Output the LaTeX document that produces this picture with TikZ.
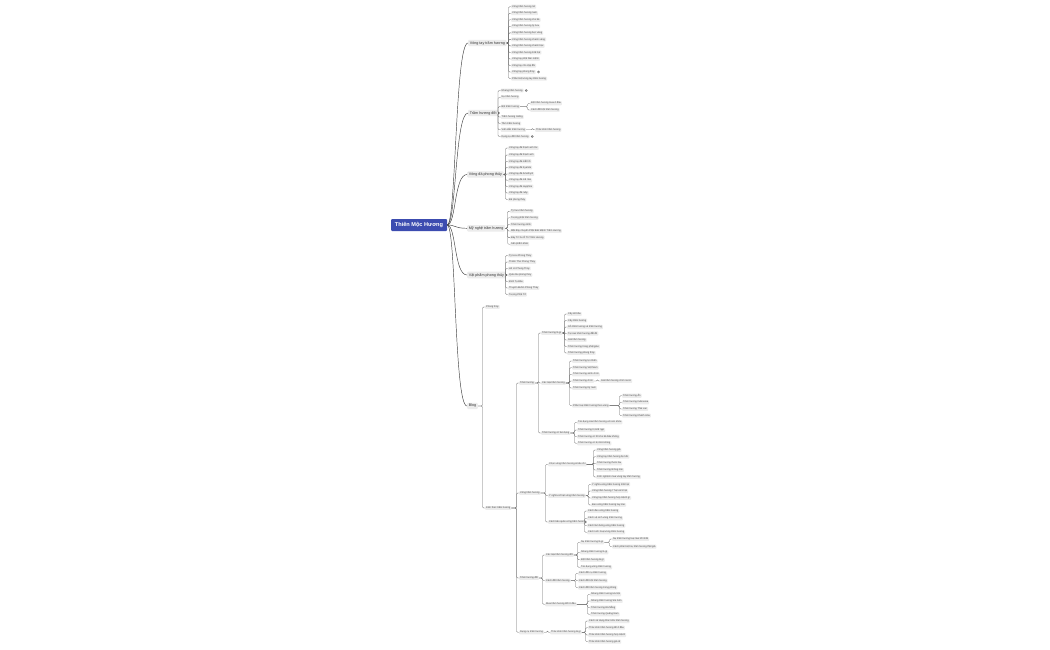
\documentclass[tikz,border=0pt]{standalone}
\usepackage{fontspec}
\setmainfont{Liberation Sans}
\usetikzlibrary{calc}
\definecolor{rootblue}{RGB}{60,76,176}
\definecolor{boxg}{RGB}{236,236,236}
\definecolor{lineg}{RGB}{105,105,105}
\definecolor{txt}{RGB}{70,70,70}
\newcommand\kids[2]{\foreach \c in {#2}{\draw[brl] (#1.east) -- ($(#1.east -| \c.west)+(-2.5,0)$) |- (\c.west);}}
\newcommand\linkicon[1]{\draw[lineg, line width=0.25pt] ($(#1.east)+(2.6,0)$) circle (1.2) ($(#1.east)+(2.0,0.5)$) -- ($(#1.east)+(3.2,-0.5)$);}
\begin{document}
\begin{tikzpicture}[x=1pt,y=-1pt,
 leaf/.style={anchor=west, fill=boxg, rounded corners=0.8pt, inner xsep=1pt, inner ysep=0.8pt, font=\fontsize{2.45}{2.8}\selectfont, text=txt},
 mainn/.style={anchor=west, fill=boxg, rounded corners=1pt, inner xsep=1.6pt, inner ysep=1.4pt, font=\fontsize{3.7}{4.2}\selectfont, text=black!80},
 rootn/.style={fill=rootblue, text=white, font=\fontsize{5.6}{6}\selectfont\bfseries, minimum width=56pt, minimum height=12pt, rounded corners=1pt, inner sep=0pt},
 curve/.style={draw=black!75, line width=0.45pt},
 brl/.style={draw=lineg, line width=0.3pt, rounded corners=1.2pt},
]
\fill[white] (0,0) rectangle (1050,650);
\useasboundingbox (0,0) rectangle (1050,650);

\node[rootn] (root) at (419,225) {Thiên Mộc Hương};

\node[mainn] (b1) at (468,43) {Vòng tay trầm hương};
\node[mainn] (b2) at (468,113) {Trầm hương đốt};
\node[mainn] (b3) at (467,174.5) {Vòng đá phong thủy};
\node[mainn] (b4) at (467,228.3) {Mỹ nghệ trầm hương};
\node[mainn] (b5) at (467,275) {Vật phẩm phong thủy};
\node[mainn] (b6) at (467,406) {Blog};

\foreach \b in {b1,b2,b3,b4,b5,b6}{\draw[curve] (root.east) .. controls +(9,0) and +(-13,0) .. (\b.west);}

% branch 1
\node[leaf] (a1) at (511,6.7) {Vòng trầm hương nữ};
\node[leaf] (a2) at (511,13.2) {Vòng trầm hương nam};
\node[leaf] (a3) at (511,19.8) {Vòng trầm hương cho bé};
\node[leaf] (a4) at (511,26.3) {Vòng trầm hương tỳ hưu};
\node[leaf] (a5) at (511,32.9) {Vòng trầm hương bọc vàng};
\node[leaf] (a6) at (511,39.4) {Vòng trầm hương charm vàng};
\node[leaf] (a7) at (511,45.9) {Vòng trầm hương charm bạc};
\node[leaf] (a8) at (511,52.5) {Vòng trầm hương 108 hạt};
\node[leaf] (a9) at (511,59.0) {Vòng tay phật bản mệnh};
\node[leaf] (a10) at (511,65.6) {Vòng tay cho cặp đôi};
\node[leaf] (a11) at (511,72.1) {Vòng tay phong thủy};
\node[leaf] (a12) at (511,78.6) {Phân biệt vòng tay trầm hương};
\kids{b1}{a1,a2,a3,a4,a5,a6,a7,a8,a9,a10,a11,a12}
\linkicon{a11}

% branch 2
\node[leaf] (c1) at (500.5,90.5) {Nhang trầm hương};
\node[leaf] (c2) at (500.5,97.3) {Nụ trầm hương};
\node[leaf] (c3) at (500.5,106.6) {Bột trầm hương};
\node[leaf] (c4) at (500.5,117) {Trầm hương miếng};
\node[leaf] (c5) at (500.5,123.5) {Tăm trầm hương};
\node[leaf] (c6) at (500.5,129.8) {Viên dẫn trầm hương};
\node[leaf] (c7) at (500.5,136.5) {Dụng cụ đốt trầm hương};
\kids{b2}{c1,c2,c3,c4,c5,c6,c7}
\linkicon{c1}
\linkicon{c7}
\node[leaf] (c31) at (530,103.3) {Bột trầm hương mua ở đâu};
\node[leaf] (c32) at (530,110) {Cách đốt bột trầm hương};
\kids{c3}{c31,c32}
\node[leaf] (c61) at (535,129.8) {Thác khói trầm hương};
\kids{c6}{c61}

% branch 3
\node[leaf] (d1) at (508,148) {Vòng tay đá thạch anh tóc};
\node[leaf] (d2) at (508,155) {Vòng tay đá thạch anh};
\node[leaf] (d3) at (508,161.3) {Vòng tay đá mắt hổ};
\node[leaf] (d4) at (508,167.5) {Vòng tay đá Kyanite};
\node[leaf] (d5) at (508,174) {Vòng tay đá Amethyst};
\node[leaf] (d6) at (508,180.3) {Vòng tay đá mã não};
\node[leaf] (d7) at (508,186.5) {Vòng tay đá sapphire};
\node[leaf] (d8) at (508,193) {Vòng tay đá ruby};
\node[leaf] (d9) at (508,199.5) {Đá phong thủy};
\kids{b3}{d1,d2,d3,d4,d5,d6,d7,d8,d9}

% branch 4
\node[leaf] (e1) at (510,211.2) {Tỳ hưu trầm hương};
\node[leaf] (e2) at (510,217.8) {Tượng phật trầm hương};
\node[leaf] (e3) at (510,224.4) {Trầm hương cảnh};
\node[leaf] (e4) at (510,231) {Mặt dây chuyền Phật Bản Mệnh Trầm Hương};
\node[leaf] (e5) at (510,237.6) {Bày Trí Xe Ô Tô Trầm Hương};
\node[leaf] (e6) at (510,244.2) {Sản phẩm khác};
\kids{b4}{e1,e2,e3,e4,e5,e6}

% branch 5
\node[leaf] (f1) at (508,255.5) {Tỳ Hưu Phong Thủy};
\node[leaf] (f2) at (508,262) {Thiềm Thừ Phong Thủy};
\node[leaf] (f3) at (508,268.5) {Hồ Lô Phong Thủy};
\node[leaf] (f4) at (508,275) {Quả cầu phong thủy};
\node[leaf] (f5) at (508,281.5) {Bình Tụ Bảo};
\node[leaf] (f6) at (508,288) {Thuyền Buồm Phong Thủy};
\node[leaf] (f7) at (508,294.5) {Tượng Phật Tổ};
\kids{b5}{f1,f2,f3,f4,f5,f6,f7}

% branch 6 (Blog)
\node[leaf] (p1) at (485,307) {Phong thủy};
\node[leaf] (k) at (485,508) {Kiến thức trầm hương};
\kids{b6}{p1,k}
\node[leaf] (t1) at (519,383) {Trầm hương};
\node[leaf] (t2) at (519,493) {Vòng trầm hương};
\node[leaf] (t3) at (519,578) {Trầm hương đốt};
\node[leaf] (t4) at (519,632.3) {Dụng cụ trầm hương};
\kids{k}{t1,t2,t3,t4}

\node[leaf] (t11) at (541,333) {Trầm hương là gì};
\node[leaf] (t12) at (541,383) {Các loại trầm hương};
\node[leaf] (t13) at (541,433) {Trầm hương có tác dụng};
\kids{t1}{t11,t12,t13}

\node[leaf] (g1) at (567,314) {Cây dó bầu};
\node[leaf] (g2) at (567,320.5) {Cây trầm hương};
\node[leaf] (g3) at (567,327) {Gỗ trầm hương và trầm hương};
\node[leaf] (g4) at (567,333.5) {Tại sao trầm hương đắt đỏ};
\node[leaf] (g5) at (567,340) {Giá trầm hương};
\node[leaf] (g6) at (567,346.5) {Trầm hương trong phật giáo};
\node[leaf] (g7) at (567,353) {Trầm hương phong thủy};
\kids{t11}{g1,g2,g3,g4,g5,g6,g7}

\node[leaf] (h1) at (572,361) {Trầm hương tự nhiên};
\node[leaf] (h2) at (572,367.7) {Trầm hương Việt Nam};
\node[leaf] (h3) at (572,374.3) {Trầm hương sánh chìm};
\node[leaf] (h4) at (572,381) {Trầm hương chìm};
\node[leaf] (h5) at (572,388) {Trầm hương Kỳ nam};
\node[leaf] (h6) at (572,405.7) {Phân loại trầm hương theo vùng};
\kids{t12}{h1,h2,h3,h4,h5,h6}
\node[leaf] (h41) at (600,381) {Giá trầm hương chìm nước};
\kids{h4}{h41}
\node[leaf] (h61) at (622,395.7) {Trầm hương Ấn};
\node[leaf] (h62) at (622,402.3) {Trầm hương Indonesia};
\node[leaf] (h63) at (622,409) {Trầm hương Thái Lan};
\node[leaf] (h64) at (622,415.7) {Trầm hương Khánh Hòa};
\kids{h6}{h61,h62,h63,h64}

\node[leaf] (i1) at (577,422.3) {Tác dụng của trầm hương với sức khỏe};
\node[leaf] (i2) at (577,430) {Trầm hương trị mất ngủ};
\node[leaf] (i3) at (577,436.7) {Trầm hương có tốt cho bà bầu không};
\node[leaf] (i4) at (577,443.3) {Trầm hương có bị mốc không};
\kids{t13}{i1,i2,i3,i4}

\node[leaf] (t21) at (548,464.3) {Chọn vòng trầm hương \& tiêu chí};
\node[leaf] (t22) at (548,495.7) {Ý nghĩa số hạt vòng trầm hương};
\node[leaf] (t23) at (548,522) {Cách bảo quản vòng trầm hương};
\kids{t2}{t21,t22,t23}
\node[leaf] (j1) at (596,450) {Vòng trầm hương giả};
\node[leaf] (j2) at (596,456.7) {Vòng tay trầm hương bị mốc};
\node[leaf] (j3) at (596,463.3) {Trầm hương thơm lâu};
\node[leaf] (j4) at (596,470) {Trầm hương không mùi};
\node[leaf] (j5) at (596,477) {Kinh nghiệm mua vòng tay trầm hương};
\kids{t21}{j1,j2,j3,j4,j5}
\node[leaf] (l1) at (591,484.3) {Ý nghĩa vòng trầm hương 108 hạt};
\node[leaf] (l2) at (591,491) {Vòng trầm hương 7 hạt và 9 hạt};
\node[leaf] (l3) at (591,498) {Vòng tay trầm hương hợp mệnh gì};
\node[leaf] (l4) at (591,505) {Đeo vòng trầm hương tay nào};
\kids{t22}{l1,l2,l3,l4}
\node[leaf] (m1) at (587,511) {Cách đeo vòng trầm hương};
\node[leaf] (m2) at (587,518.3) {Cách vệ sinh vòng trầm hương};
\node[leaf] (m3) at (587,525.7) {Cách làm bóng vòng trầm hương};
\node[leaf] (m4) at (587,532.3) {Cách kích hoạt vòng trầm hương};
\kids{t23}{m1,m2,m3,m4}

\node[leaf] (t31) at (545,555) {Các loại trầm hương đốt};
\node[leaf] (t32) at (545,580.7) {Cách đốt trầm hương};
\node[leaf] (t33) at (545,604.3) {Mua trầm hương đốt ở đâu};
\kids{t3}{t31,t32,t33}
\node[leaf] (n1) at (580,542.3) {Nụ trầm hương là gì};
\node[leaf] (n2) at (580,552.3) {Nhang trầm hương là gì};
\node[leaf] (n3) at (580,559.8) {Bột trầm hương là gì};
\node[leaf] (n4) at (580,567.3) {Tác dụng xông trầm hương};
\kids{t31}{n1,n2,n3,n4}
\node[leaf] (n11) at (612,539) {Nụ trầm hương loại nào tốt nhất};
\node[leaf] (n12) at (612,546.7) {Cách phân biệt nụ trầm hương thật giả};
\kids{n1}{n11,n12}
\node[leaf] (o1) at (578,573.3) {Cách đốt nụ trầm hương};
\node[leaf] (o2) at (578,580.7) {Cách đốt bột trầm hương};
\node[leaf] (o3) at (578,587.7) {Cách đốt trầm hương trong phòng};
\kids{t32}{o1,o2,o3}
\node[leaf] (q1) at (590,594.3) {Nhang trầm hương Hà Nội};
\node[leaf] (q2) at (590,601) {Nhang trầm hương Sài Gòn};
\node[leaf] (q3) at (590,607.7) {Trầm hương Đà Nẵng};
\node[leaf] (q4) at (590,614.3) {Trầm hương Quảng Nam};
\kids{t33}{q1,q2,q3,q4}

\node[leaf] (t41) at (550,632.3) {Thác khói trầm hương là gì};
\kids{t4}{t41}
\node[leaf] (r1) at (588,621) {Cách sử dụng thác khói trầm hương};
\node[leaf] (r2) at (588,627.7) {Thác khói trầm hương để ở đâu};
\node[leaf] (r3) at (588,635) {Thác khói trầm hương hợp mệnh};
\node[leaf] (r4) at (588,641.7) {Thác khói trầm hương giá rẻ};
\kids{t41}{r1,r2,r3,r4}
\end{tikzpicture}
\end{document}
